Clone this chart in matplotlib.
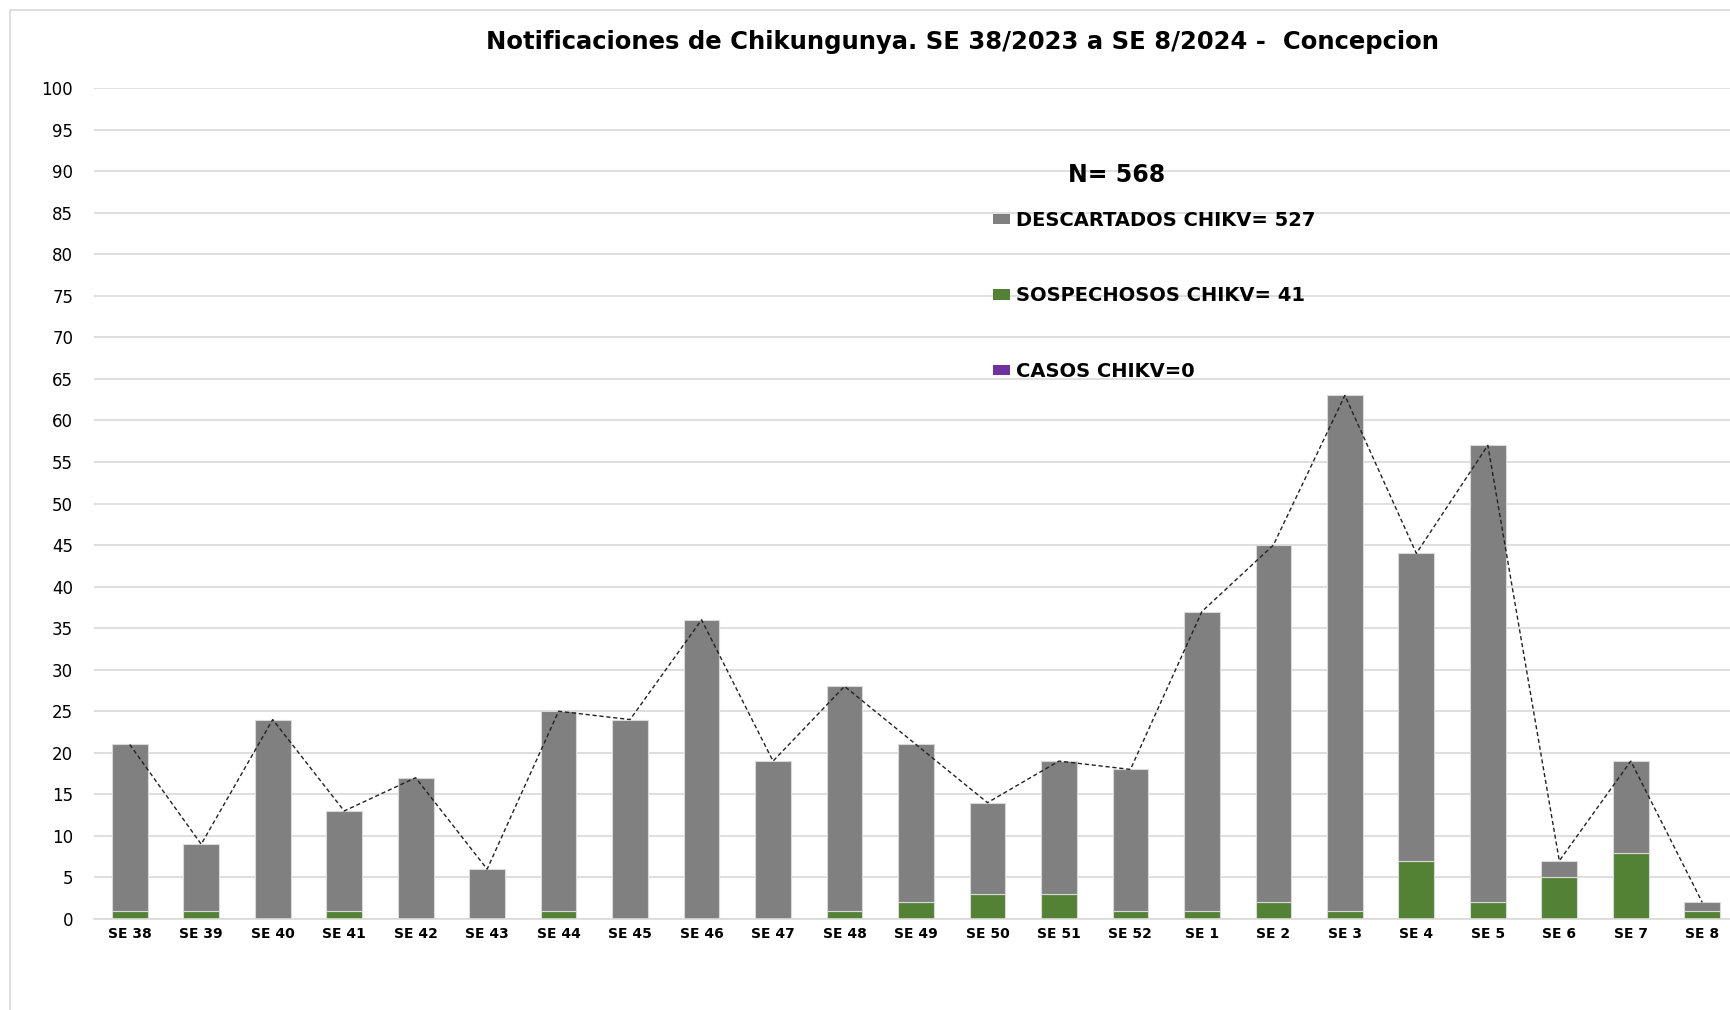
import matplotlib
matplotlib.use("Agg")
import matplotlib.pyplot as plt
from matplotlib.patches import Rectangle, Patch
import numpy as np

# Semanas epidemiologicas
semanas = ['SE 38', 'SE 39', 'SE 40', 'SE 41', 'SE 42', 'SE 43', 'SE 44', 'SE 45',
           'SE 46', 'SE 47', 'SE 48', 'SE 49', 'SE 50', 'SE 51', 'SE 52', 'SE 1',
           'SE 2', 'SE 3', 'SE 4', 'SE 5', 'SE 6', 'SE 7', 'SE 8']

# Notificaciones totales por semana
totales = [21, 9, 24, 13, 17, 6, 25, 24, 36, 19, 28, 21, 14, 19, 18, 37,
           45, 63, 44, 57, 7, 19, 2]

# Sospechosos (verde)
sospechosos = [1, 1, 0, 1, 0, 0, 1, 0, 0, 0, 1, 2, 3, 3, 1, 1,
               2, 1, 7, 2, 5, 8, 1]

# Casos confirmados
casos = [0] * len(semanas)

descartados = [t - s - c for t, s, c in zip(totales, sospechosos, casos)]

GRAY = '#808080'
GREEN = '#548235'
PURPLE = '#7030A0'
GRID = '#d9d9d9'

W, H = 1730, 1010
fig = plt.figure(figsize=(W / 100, H / 100), dpi=100)
fig.patch.set_facecolor('white')

# chart area border (only left and top are visible in the crop)
fig.add_artist(Rectangle((10 / W, -0.5), 2.0, 1.5 - 10 / H, transform=fig.transFigure,
                         facecolor='none', edgecolor=GRID, linewidth=1.2))

ax = fig.add_axes([94 / W, 1 - 919 / H, (1738 - 94) / W, (919 - 88) / H])

x = np.arange(len(semanas))
bw = 0.5
ax.bar(x, sospechosos, bw, color=GREEN, edgecolor=GRID, linewidth=0.8, zorder=2)
ax.bar(x, descartados, bw, bottom=sospechosos, color=GRAY, edgecolor=GRID,
       linewidth=0.8, zorder=2)
base = [s + d for s, d in zip(sospechosos, descartados)]
ax.bar(x, casos, bw, bottom=base, color=PURPLE, linewidth=0, zorder=2)

ax.plot(x, totales, color='#222222', linewidth=1.0, linestyle=(0, (3, 2)), zorder=3)

ax.set_xlim(-0.5, len(semanas) - 0.5)
ax.set_ylim(0, 100)
ax.set_yticks(range(0, 101, 5))
ax.yaxis.grid(True, color=GRID, linewidth=1.2)
ax.set_axisbelow(True)
for s in ['top', 'right', 'left']:
    ax.spines[s].set_visible(False)
ax.spines['bottom'].set_color(GRID)
ax.spines['bottom'].set_linewidth(1.2)

ax.set_xticks(x)
ax.set_xticklabels(semanas, fontsize=10, fontweight='bold')
ax.tick_params(axis='x', length=0, pad=6)
ax.tick_params(axis='y', length=0, pad=15, labelsize=12)

fig.text(962 / W, 1 - 42 / H,
         'Notificaciones de Chikungunya. SE 38/2023 a SE 8/2024 -  Concepcion',
         ha='center', va='center', fontsize=17.5, fontweight='bold')

ax.text(1117 / W, 1 - 175 / H, 'N= 568', transform=fig.transFigure,
        ha='center', va='center', fontsize=17, fontweight='bold')

handles = [Patch(facecolor=GRAY), Patch(facecolor=GREEN), Patch(facecolor=PURPLE)]
labels = ['DESCARTADOS CHIKV= 527', 'SOSPECHOSOS CHIKV= 41', 'CASOS CHIKV=0']
fig.legend(handles, labels, loc='upper left', bbox_to_anchor=(993 / W, 1 - 211 / H),
           bbox_transform=fig.transFigure, frameon=False, borderpad=0,
           borderaxespad=0, prop={'weight': 'bold', 'size': 14},
           handlelength=0.85, handleheight=0.45, handletextpad=0.35,
           labelspacing=2.9)

fig.savefig('out.png', dpi=100, facecolor='white')
